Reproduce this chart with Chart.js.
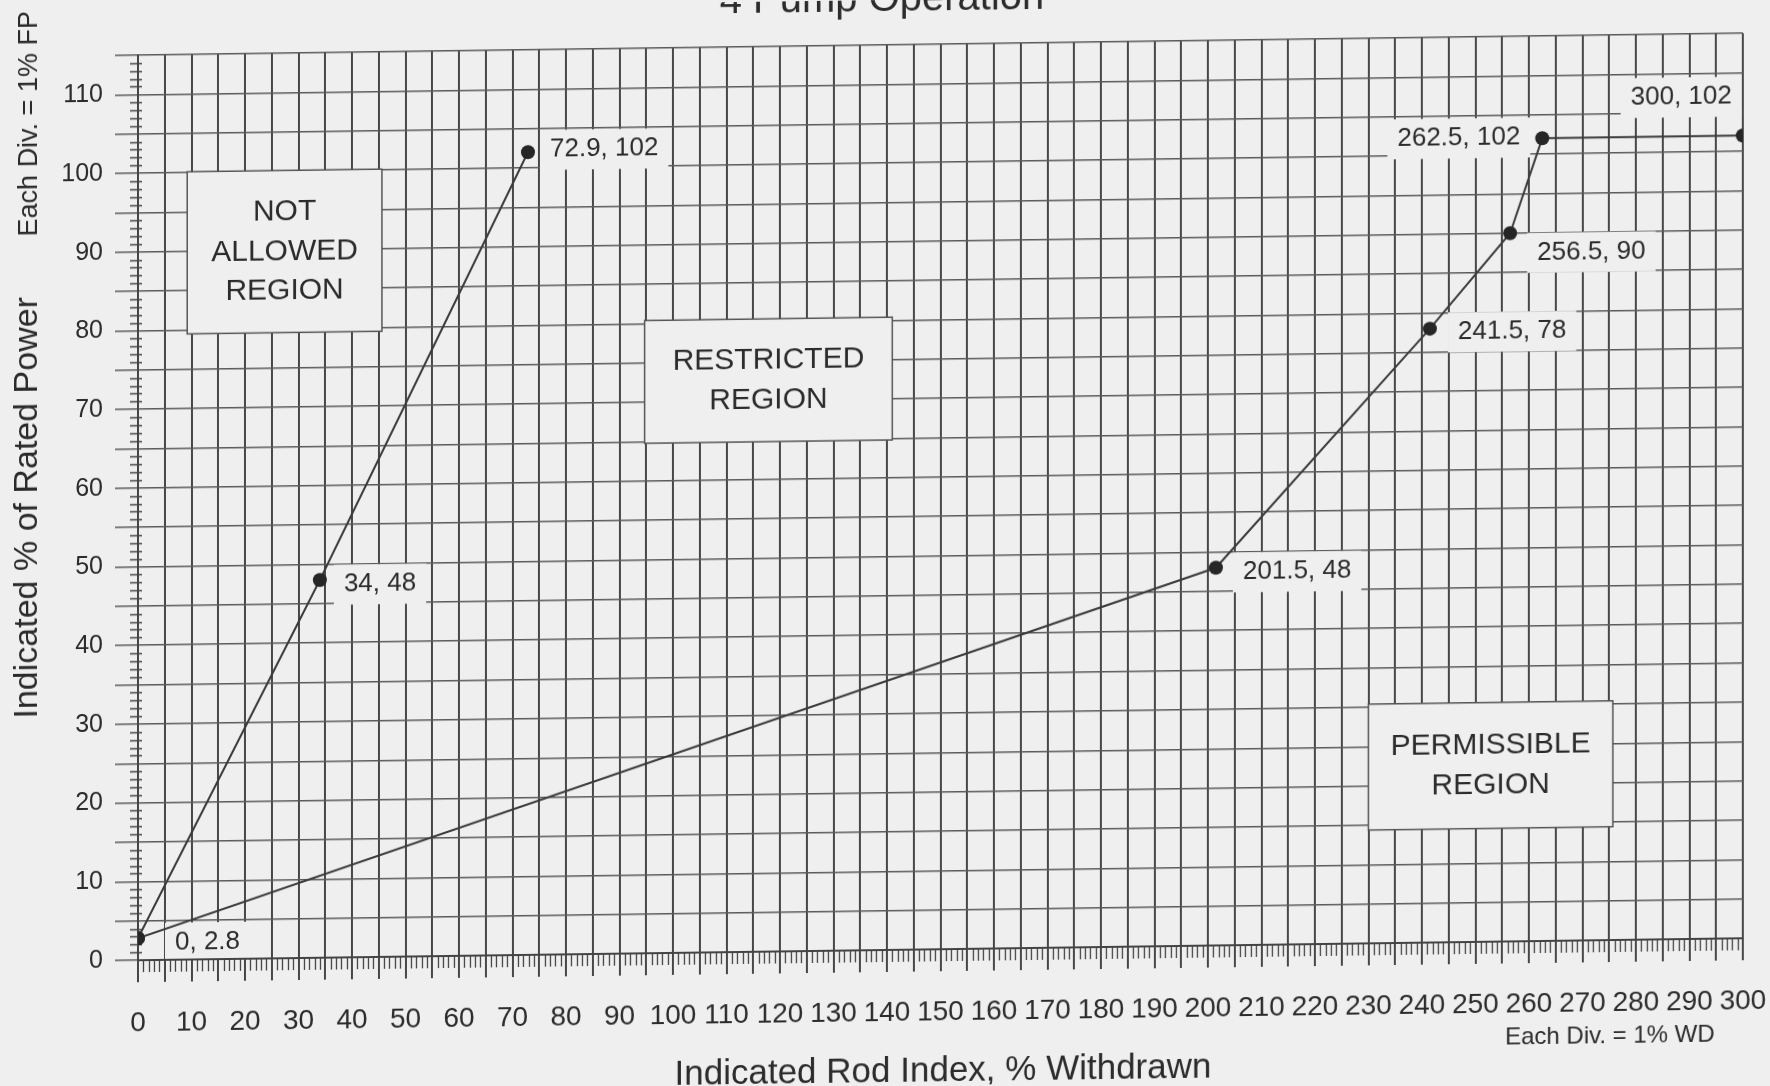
<!DOCTYPE html>
<html>
<head>
<meta charset="utf-8">
<title>4 Pump Operation</title>
<style>
  html, body { margin: 0; padding: 0; background: #efefef; overflow: hidden; }
  #wrap { width: 1770px; height: 1086px; transform: skewY(-0.785deg); transform-origin: 885px 543px; }
  canvas { display: block; }
</style>
<script src="https://cdn.jsdelivr.net/npm/chart.js@4.4.1/dist/chart.umd.min.js"></script>
</head>
<body>
<div id="wrap"><canvas id="chart" width="1770" height="1086"></canvas></div>
<script>
// Power-dependent rod insertion limit, 4 pump operation
const chartTitle = '4 Pump Operation';
const xAxisTitle = 'Indicated Rod Index, % Withdrawn';
const yAxisTitle = 'Indicated % of Rated Power';
const xDivNote = 'Each Div. = 1% WD';
const yDivNote = 'Each Div. = 1% FP';

// Not-allowed / restricted boundary
const limitRodIndex = [0, 34, 72.9];
const limitPower = [2.8, 48, 102];

// Restricted / permissible boundary
const permRodIndex = [0, 201.5, 241.5, 256.5, 262.5, 300];
const permPower = [2.8, 48, 78, 90, 102, 102];

// Axis ranges and labelled tick spacing
const xRange = [0, 300];
const yRange = [0, 115];
const gridStep = 5;
const labelStep = 10;
const yLabelMax = 110;

// Region captions
const regionCaptions = [
  ['NOT', 'ALLOWED', 'REGION'],
  ['RESTRICTED', 'REGION'],
  ['PERMISSIBLE', 'REGION']
];

// ---- appearance ----
const FONT = '"Liberation Sans", Arial, Helvetica, sans-serif';
const BG = '#efefef';
const INK = '#2b2b2b';

// caption boxes, in axis units
const regionBoxes = [
  { x0: 9.2, x1: 45.6, y0: 79.5, y1: 100.1 },
  { x0: 94.7, x1: 141, y0: 64.8, y1: 80.4 },
  { x0: 230, x1: 275.7, y0: 14.4, y1: 30.4 }
];

// point label placement (pixel offsets from the marker)
const pointLabelPlacement = [
  { ds: 0, i: 0, dx: 37, dy: 5, align: 'left' },
  { ds: 0, i: 1, dx: 24, dy: 5, align: 'left' },
  { ds: 0, i: 2, dx: 22, dy: -2, align: 'left' },
  { ds: 1, i: 1, dx: 27, dy: 5, align: 'left' },
  { ds: 1, i: 2, dx: 28, dy: 4, align: 'left' },
  { ds: 1, i: 3, dx: 27, dy: 20, align: 'left' },
  { ds: 1, i: 4, dx: -22, dy: -1, align: 'right' },
  { ds: 1, i: 5, dx: -11, dy: -39, align: 'right' }
];

const toPoints = (xs, ys) => xs.map((x, i) => ({ x, y: ys[i] }));
const seriesX = [limitRodIndex, permRodIndex];
const seriesY = [limitPower, permPower];

// 1% minor divisions along both axes
const minorTicks = {
  id: 'minorTicks',
  beforeDatasetsDraw(chart) {
    const { ctx, scales: { x, y }, chartArea: a } = chart;
    ctx.save();
    ctx.strokeStyle = '#444';
    ctx.lineWidth = 1.3;
    ctx.beginPath();
    for (let v = xRange[0]; v <= xRange[1]; v++) {
      if (v % gridStep === 0) continue;
      const px = Math.round(x.getPixelForValue(v)) + 0.5;
      ctx.moveTo(px, a.bottom);
      ctx.lineTo(px, a.bottom + 12);
    }
    for (let v = yRange[0]; v <= yRange[1]; v++) {
      if (v % gridStep === 0) continue;
      const py = Math.round(y.getPixelForValue(v)) + 0.5;
      ctx.moveTo(a.left - 8, py);
      ctx.lineTo(a.left + 4, py);
    }
    ctx.stroke();
    ctx.restore();
  }
};

// region caption boxes and point value labels
const annotations = {
  id: 'annotations',
  beforeDatasetsDraw(chart) {
    const { ctx, scales: { x, y }, chartArea: a } = chart;
    ctx.save();
    regionBoxes.forEach((b, k) => {
      const l = x.getPixelForValue(b.x0), r = x.getPixelForValue(b.x1);
      const t = y.getPixelForValue(b.y1), btm = y.getPixelForValue(b.y0);
      ctx.fillStyle = BG;
      ctx.fillRect(l, t, r - l, btm - t);
      ctx.strokeStyle = '#555';
      ctx.lineWidth = 1.5;
      ctx.strokeRect(l, t, r - l, btm - t);
      const lines = regionCaptions[k];
      const lh = 39.5;
      const cx = (l + r) / 2, cy = (t + btm) / 2;
      ctx.fillStyle = INK;
      ctx.font = '30px ' + FONT;
      ctx.textAlign = 'center';
      ctx.textBaseline = 'middle';
      lines.forEach((s, j) => {
        ctx.fillText(s, cx, cy + (j - (lines.length - 1) / 2) * lh);
      });
    });
    ctx.font = '26px ' + FONT;
    ctx.textBaseline = 'middle';
    ctx.textAlign = 'left';
    pointLabelPlacement.forEach(p => {
      const el = chart.getDatasetMeta(p.ds).data[p.i];
      const text = seriesX[p.ds][p.i] + ', ' + seriesY[p.ds][p.i];
      const w = ctx.measureText(text).width;
      const tx = p.align === 'left' ? el.x + p.dx : el.x + p.dx - w;
      const ty = el.y + p.dy;
      // label backing stays inside the plot frame
      ctx.save();
      ctx.beginPath();
      ctx.rect(a.left + 1, a.top + 1, a.right - a.left - 2, a.bottom - a.top - 2);
      ctx.clip();
      ctx.fillStyle = BG;
      ctx.fillRect(tx - 10, ty - 20, w + 20, 40);
      ctx.restore();
      ctx.fillStyle = INK;
      ctx.fillText(text, tx, ty);
    });
    ctx.restore();
  }
};

// titles and division notes
const titles = {
  id: 'titles',
  afterDraw(chart) {
    const { ctx } = chart;
    ctx.save();
    ctx.fillStyle = INK;
    ctx.textAlign = 'center';
    ctx.textBaseline = 'alphabetic';
    ctx.font = '40px ' + FONT;
    ctx.fillText(chartTitle, 882, 11);
    ctx.textBaseline = 'middle';
    ctx.font = '35px ' + FONT;
    ctx.fillText(xAxisTitle, 943, 1072);
    ctx.font = '24px ' + FONT;
    ctx.fillText(xDivNote, 1610, 1046);
    ctx.save();
    ctx.translate(28, 496);
    ctx.rotate(-Math.PI / 2);
    ctx.font = '34px ' + FONT;
    ctx.fillText(yAxisTitle, 0, 0);
    ctx.restore();
    ctx.save();
    ctx.translate(30, 112);
    ctx.rotate(-Math.PI / 2);
    ctx.font = '27px ' + FONT;
    ctx.fillText(yDivNote, 0, 0);
    ctx.restore();
    ctx.restore();
  }
};

const lineStyle = {
  showLine: true,
  borderColor: '#3a3a3a',
  borderWidth: 2,
  pointRadius: 7,
  pointBackgroundColor: '#262626',
  pointBorderWidth: 0,
  tension: 0
};

new Chart(document.getElementById('chart'), {
  type: 'scatter',
  data: {
    datasets: [
      Object.assign({ label: 'Insertion limit', data: toPoints(limitRodIndex, limitPower) }, lineStyle),
      Object.assign({ label: 'Restricted limit', data: toPoints(permRodIndex, permPower) }, lineStyle)
    ]
  },
  options: {
    responsive: false,
    animation: false,
    devicePixelRatio: 1,
    layout: { padding: { top: 45, right: 27, left: 0, bottom: 0 } },
    plugins: { legend: { display: false }, tooltip: { enabled: false }, title: { display: false } },
    scales: {
      x: {
        type: 'linear',
        min: xRange[0], max: xRange[1],
        afterFit(s) { s.height = 136; s.paddingLeft = 0; s.paddingRight = 0; },
        ticks: {
          stepSize: gridStep, autoSkip: false, maxTicksLimit: 1000, maxRotation: 0,
          padding: 24, color: INK, font: { family: FONT, size: 28 },
          callback: v => (v % labelStep === 0 ? String(v) : '')
        },
        grid: { color: '#474747', lineWidth: 2, tickLength: 22, drawTicks: true },
        border: { color: '#444', width: 2 }
      },
      y: {
        type: 'linear',
        min: yRange[0], max: yRange[1],
        afterFit(s) { s.width = 138; s.paddingTop = 0; s.paddingBottom = 0; },
        ticks: {
          stepSize: gridStep, autoSkip: false, maxTicksLimit: 1000,
          padding: 12, color: INK, font: { family: FONT, size: 25 },
          callback: v => (v % labelStep === 0 && v <= yLabelMax ? String(v) : '')
        },
        grid: { color: '#5a5a5a', lineWidth: 1.5, tickLength: 23, drawTicks: true },
        border: { color: '#444', width: 2 }
      }
    }
  },
  plugins: [minorTicks, annotations, titles]
});
</script>
</body>
</html>
